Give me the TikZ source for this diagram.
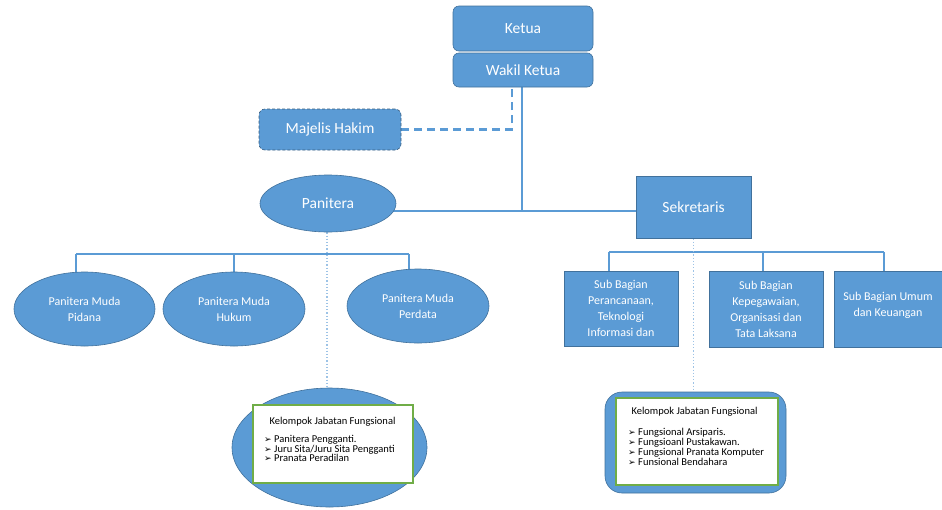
\documentclass[tikz,border=0pt]{standalone}
\usepackage{fontspec}
\setmainfont{Carlito}
\newfontfamily\symfont{DejaVu Sans}
\usetikzlibrary{shapes.geometric,backgrounds}
\definecolor{obl}{HTML}{5B9BD5}
\definecolor{obd}{HTML}{41719C}
\definecolor{ogr}{HTML}{70AD47}
\definecolor{odot}{HTML}{9DC3E6}
\newcommand\bul{{\symfont\fontsize{9}{9}\selectfont ➢}\hspace{2.5pt}}
\begin{document}
\begin{tikzpicture}[x=1pt,y=-1pt,
  box/.style={draw=obd, line width=0.6pt, fill=obl, text=white, align=center, inner sep=0pt},
  rbox/.style={box, rounded corners=6pt},
  ell/.style={box, ellipse},
  big/.style={font=\fontsize{15.5}{18}\selectfont},
  small/.style={font=\fontsize{12}{16}\selectfont},
  tiny/.style={font=\fontsize{10.5}{10}\selectfont, text=black, inner sep=0pt},
  conn/.style={draw=obl, line width=1.3pt},
  dotc/.style={draw=odot, line width=1.2pt, dotted},
  inner/.style={draw=ogr, line width=1.2pt, fill=white, inner sep=0pt}
]
\useasboundingbox (0,0) rectangle (942,509);

% top
\node[rbox, big, minimum width=140pt, minimum height=45pt] (ketua) at (523,28.5) {Ketua};
\node[rbox, big, minimum width=140pt, minimum height=34pt] (wakil) at (523,70) {Wakil Ketua};
\node[rbox, big, draw=obd!80!black, densely dashed, minimum width=142pt, minimum height=41pt] (majelis) at (330,129.5) {Majelis Hakim};

\node[ell, big, minimum width=136pt, minimum height=57pt] (panitera) at (328,203.5) {Panitera};
\node[box, big, minimum width=115pt, minimum height=62pt] (sekretaris) at (693.5,207) {Sekretaris};

% panitera children
\node[ell, small, minimum width=141pt, minimum height=74pt] (pidana) at (84.5,309) {Panitera Muda\\Pidana};
\node[ell, small, minimum width=142pt, minimum height=74pt] (hukum) at (234,309) {Panitera Muda\\Hukum};
\node[ell, small, minimum width=142pt, minimum height=74pt] (perdata) at (418,306) {Panitera Muda\\Perdata};

% sekretaris children
\node[box, small, minimum width=114pt, minimum height=75pt] (sub1) at (621,308.5) {Sub Bagian\\Perancanaan,\\Teknologi\\Informasi dan};
\node[box, small, minimum width=114pt, minimum height=76pt] (sub2) at (766,309) {Sub Bagian\\Kepegawaian,\\Organisasi dan\\Tata Laksana};
\node[box, small, minimum width=108pt, minimum height=76pt, text depth=10pt] (sub3) at (888,309) {Sub Bagian Umum\\dan Keuangan};

% kelompok 1
\node[ell, minimum width=195pt, minimum height=119pt] (kel1) at (329.5,447.5) {};
\node[inner, minimum width=160pt, minimum height=78pt] (kel1in) at (333,444) {};
\node[tiny] (kel1t) at (332.5,422) {Kelompok Jabatan Fungsional};
\node[tiny, anchor=north west, align=left, font=\fontsize{10.5}{9.2}\selectfont] (kel1l) at (264,435.5)
  {\bul Panitera Pengganti.\\\bul Juru Sita/Juru Sita Pengganti\\\bul Pranata Peradilan};

% kelompok 2
\node[box, rounded corners=17pt, minimum width=181pt, minimum height=101pt] (kel2) at (695.5,442.5) {};
\node[inner, minimum width=162pt, minimum height=87pt] (kel2in) at (697,441.5) {};
\node[tiny] (kel2t) at (694.5,412) {Kelompok Jabatan Fungsional};
\node[tiny, anchor=north west, align=left, font=\fontsize{10.5}{10}\selectfont] (kel2l) at (628,428.5)
  {\bul Fungsional Arsiparis.\\\bul Fungsioanl Pustakawan.\\\bul Fungsional Pranata Komputer\\\bul Funsional Bendahara};

\begin{pgfonlayer}{background}
  % main spine
  \coordinate (j1) at (522,211);
  \draw[conn, line width=2pt] ([xshift=-1pt]wakil.south) -- (j1);
  \draw[conn] (panitera.center |- j1) -- (sekretaris.center |- j1);
  % dashed to majelis
  \draw[draw=obl, line width=2.6pt, dash pattern=on 8pt off 5pt] (majelis.east) -| ([xshift=-11pt]wakil.south);
  % panitera bar
  \coordinate (pb1) at (76,254);
  \coordinate (pb2) at (409,254);
  \draw[conn] (pb1) -- (pb2);
  \draw[conn] (pb1) -- (pb1 |- pidana.center);
  \draw[conn] (hukum.center |- pb1) -- (hukum.center);
  \draw[conn] (pb2) -- (pb2 |- perdata.center);
  % sekretaris bar
  \coordinate (sb1) at (609,252);
  \coordinate (sb2) at (884,252);
  \draw[conn] (sb1) -- (sb2);
  \draw[conn] (sb1) -- (sb1 |- sub1.center);
  \draw[conn] ([xshift=-3pt]sub2.center |- sb1) -- ([xshift=-3pt]sub2.center);
  \draw[conn] (sb2) -- (sb2 |- sub3.center);
  % dotted
  \draw[dotc] ([xshift=-1pt]panitera.south) -- ([xshift=-1pt]panitera.south |- kel1.north);
  \draw[dotc] (sekretaris.south) -- (sekretaris.south |- kel2.north);
\end{pgfonlayer}
\end{tikzpicture}
\end{document}
